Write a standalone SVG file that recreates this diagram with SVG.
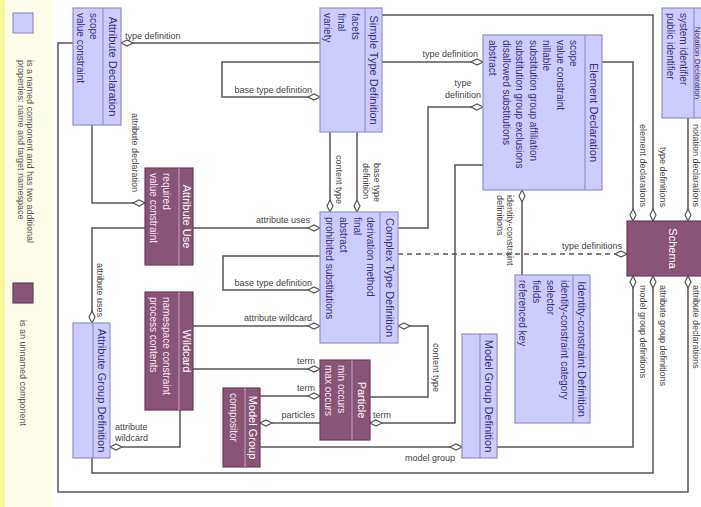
<svg xmlns="http://www.w3.org/2000/svg" width="701" height="507" viewBox="0 0 701 507">
<defs>
<style>
text{font-family:"Liberation Sans",Arial,sans-serif}
.lb{fill:#ccccff;stroke:#9090c8;stroke-width:1.2}
.db{fill:#8a5478;stroke:#6a3d5e;stroke-width:1.2}
.ldv{stroke:#9090c8;stroke-width:1.2}
.ddv{stroke:#c8a0bc;stroke-width:1}
.tl{font-size:11px;fill:#3a2f80;text-anchor:middle}
.pl{font-size:10px;fill:#3a2f80}
.td{font-size:11px;fill:#ffffff;text-anchor:middle}
.pd{font-size:10px;fill:#f6e8f2}
.lbl{font-size:9px;fill:#444}
.end{text-anchor:end}
.mid{text-anchor:middle}
.conn path{fill:none;stroke:#555;stroke-width:1.5;marker-end:url(#dia)}
.conn path.dash{stroke-dasharray:5 4}
.leg{font-size:9px;fill:#555}
</style>
<marker id="dia" markerUnits="userSpaceOnUse" markerWidth="14" markerHeight="8" refX="13" refY="4" orient="auto" overflow="visible">
<path d="M1,4 L7,1 L13,4 L7,7 Z" fill="#fff" stroke="#555" stroke-width="1.2"/>
</marker>
</defs>
<rect x="0" y="0" width="701" height="507" fill="#ffffff"/>
<g id="legend">
<rect x="0" y="0" width="52" height="507" fill="#fdfde9"/>
<rect x="0" y="0" width="5" height="507" fill="#f7f79a"/>
<rect class="lb" x="13" y="13" width="20" height="20"/>
<text class="leg" transform="translate(27,60) rotate(90)">is a named component and has two additional</text>
<text class="leg" transform="translate(18,60) rotate(90)">properties: name and target namespace</text>
<rect class="db" x="13" y="283" width="20" height="20"/>
<text class="leg" transform="translate(20,320) rotate(90)">is an unnamed component</text>
</g>
<g id="connectors" class="conn">
<path d="M320,43 H121"/>
<path d="M320,62 H222 V97 H320"/>
<path d="M382,62 H483"/>
<path d="M398,228 H428 V107 H483"/>
<path d="M382,15 H653 V221"/>
<path d="M602,62 H633 V221"/>
<path d="M688,118 V221"/>
<path d="M497,447 H633 V276"/>
<path d="M92,458 V473 H653 V276"/>
<path d="M73,43 H58 V492 H688 V276"/>
<path class="dash" d="M398,254 H627"/>
<path d="M92,125 V203 H145"/>
<path d="M145,228 H92 V323"/>
<path d="M193,228 H320"/>
<path d="M320,256 H223 V290 H320"/>
<path d="M193,326 H320"/>
<path d="M193,369 H320"/>
<path d="M260,396 H320"/>
<path d="M320,423 H260"/>
<path d="M483,165 H455 V423 H370"/>
<path d="M370,397 H428 V326 H398"/>
<path d="M330,132 V212"/>
<path d="M357,132 V212"/>
<path d="M522,275 V190"/>
<path d="M260,447 H462"/>
<path d="M180,410 V447 H110"/>
</g>
<g id="labels">
<text class="lbl" x="125" y="39">type definition</text>
<text class="lbl end" x="312" y="93">base type definition</text>
<text class="lbl end" x="478" y="57">type definition</text>
<text class="lbl mid" x="463" y="86">type</text>
<text class="lbl mid" x="463" y="98">definition</text>
<text class="lbl end" x="310" y="223">attribute uses</text>
<text class="lbl end" x="312" y="286">base type definition</text>
<text class="lbl end" x="312" y="321">attribute wildcard</text>
<text class="lbl end" x="315" y="364">term</text>
<text class="lbl end" x="315" y="391">term</text>
<text class="lbl end" x="315" y="418">particles</text>
<text class="lbl" x="373" y="418">term</text>
<text class="lbl end" x="455" y="461">model group</text>
<text class="lbl" x="115" y="430">attribute</text>
<text class="lbl" x="115" y="441">wildcard</text>
<text class="lbl end" x="622" y="249">type definitions</text>
<text class="lbl" transform="translate(132,113) rotate(90)">attribute declaration</text>
<text class="lbl" transform="translate(97,263) rotate(90)">attribute uses</text>
<text class="lbl" transform="translate(336,155) rotate(90)">content type</text>
<text class="lbl" transform="translate(374,163) rotate(90)">base type</text>
<text class="lbl" transform="translate(363,163) rotate(90)">definition</text>
<text class="lbl" transform="translate(433,343) rotate(90)">content type</text>
<text class="lbl" transform="translate(507,195) rotate(90)">identity-constraint</text>
<text class="lbl" transform="translate(497,195) rotate(90)">definitions</text>
<text class="lbl end" transform="translate(640,207) rotate(90)">element declarations</text>
<text class="lbl end" transform="translate(660,207) rotate(90)">type definitions</text>
<text class="lbl end" transform="translate(692.5,207) rotate(90)">notation declarations</text>
<text class="lbl" transform="translate(640,285) rotate(90)">model group definitions</text>
<text class="lbl" transform="translate(660,285) rotate(90)">attribute group definitions</text>
<text class="lbl" transform="translate(692.5,285) rotate(90)">attribute declarations</text>
</g>
<g id="attribute-declaration">
<rect class="lb" x="73" y="8" width="48" height="117"/>
<line class="ldv" x1="103" y1="8" x2="103" y2="125"/>
<text class="tl" transform="translate(108.5,66.5) rotate(90)">Attribute Declaration</text>
<text class="pl" transform="translate(90,13) rotate(90)">scope</text>
<text class="pl" transform="translate(77,13) rotate(90)">value constraint</text>
</g>
<g id="simple-type-definition">
<rect class="lb" x="320" y="8" width="62" height="124"/>
<line class="ldv" x1="365" y1="8" x2="365" y2="132"/>
<text class="tl" transform="translate(370,70) rotate(90)">Simple Type Definition</text>
<text class="pl" transform="translate(352,13) rotate(90)">facets</text>
<text class="pl" transform="translate(338,13) rotate(90)">final</text>
<text class="pl" transform="translate(324,13) rotate(90)">variety</text>
</g>
<g id="element-declaration">
<rect class="lb" x="483" y="35" width="119" height="155"/>
<line class="ldv" x1="585" y1="35" x2="585" y2="190"/>
<text class="tl" transform="translate(590,112.5) rotate(90)">Element Declaration</text>
<text class="pl" transform="translate(570,40) rotate(90)">scope</text>
<text class="pl" transform="translate(557,40) rotate(90)">value constraint</text>
<text class="pl" transform="translate(543,40) rotate(90)">nillable</text>
<text class="pl" transform="translate(530,40) rotate(90)">substitution group affiliation</text>
<text class="pl" transform="translate(516,40) rotate(90)">substitution group exclusions</text>
<text class="pl" transform="translate(503,40) rotate(90)">disallowed substitutions</text>
<text class="pl" transform="translate(489,40) rotate(90)">abstract</text>
</g>
<g id="notation-declaration">
<rect class="lb" x="662" y="8" width="42" height="110"/>
<line class="ldv" x1="694" y1="8" x2="694" y2="118"/>
<text class="tl" style="font-size:8px" transform="translate(694.8,63) rotate(90)">Notation Declaration</text>
<text class="pl" transform="translate(680,13) rotate(90)">system identifier</text>
<text class="pl" transform="translate(667,13) rotate(90)">public identifier</text>
</g>
<g id="schema">
<rect class="db" x="627" y="221" width="85" height="55"/>
<text class="td" transform="translate(668.5,248.5) rotate(90)">Schema</text>
</g>
<g id="complex-type-definition">
<rect class="lb" x="320" y="212" width="78" height="131"/>
<line class="ldv" x1="380" y1="212" x2="380" y2="343"/>
<text class="tl" transform="translate(385.5,277.5) rotate(90)">Complex Type Definition</text>
<text class="pl" transform="translate(367,217) rotate(90)">derivation method</text>
<text class="pl" transform="translate(354,217) rotate(90)">final</text>
<text class="pl" transform="translate(340,217) rotate(90)">abstract</text>
<text class="pl" transform="translate(326,217) rotate(90)">prohibited substitutions</text>
</g>
<g id="attribute-use">
<rect class="db" x="145" y="168" width="48" height="97"/>
<line class="ddv" x1="179" y1="168" x2="179" y2="265"/>
<text class="td" transform="translate(182.5,216.5) rotate(90)">Attribute Use</text>
<text class="pd" transform="translate(163,173) rotate(90)">required</text>
<text class="pd" transform="translate(150,173) rotate(90)">value constraint</text>
</g>
<g id="wildcard">
<rect class="db" x="145" y="292" width="48" height="118"/>
<line class="ddv" x1="179" y1="292" x2="179" y2="410"/>
<text class="td" transform="translate(182.5,351) rotate(90)">Wildcard</text>
<text class="pd" transform="translate(163,297) rotate(90)">namespace constraint</text>
<text class="pd" transform="translate(150,297) rotate(90)">process contents</text>
</g>
<g id="particle">
<rect class="db" x="320" y="360" width="50" height="80"/>
<line class="ddv" x1="352" y1="360" x2="352" y2="440"/>
<text class="td" transform="translate(357.5,400) rotate(90)">Particle</text>
<text class="pd" transform="translate(338,365) rotate(90)">min occurs</text>
<text class="pd" transform="translate(325,365) rotate(90)">max occurs</text>
</g>
<g id="model-group">
<rect class="db" x="223" y="388" width="37" height="79"/>
<line class="ddv" x1="245" y1="388" x2="245" y2="467"/>
<text class="td" transform="translate(249,427.5) rotate(90)">Model Group</text>
<text class="pd" transform="translate(230,393) rotate(90)">compositor</text>
</g>
<g id="model-group-definition">
<rect class="lb" x="462" y="334" width="35" height="124"/>
<line class="ldv" x1="480" y1="334" x2="480" y2="458"/>
<text class="tl" transform="translate(485,396) rotate(90)">Model Group Definition</text>
</g>
<g id="identity-constraint-definition">
<rect class="lb" x="515" y="275" width="75" height="148"/>
<line class="ldv" x1="573" y1="275" x2="573" y2="423"/>
<text class="tl" transform="translate(578,349) rotate(90)">Identity-constraint Definition</text>
<text class="pl" transform="translate(561,280) rotate(90)">identity-constraint category</text>
<text class="pl" transform="translate(547,280) rotate(90)">selector</text>
<text class="pl" transform="translate(533,280) rotate(90)">fields</text>
<text class="pl" transform="translate(519,280) rotate(90)">referenced key</text>
</g>
<g id="attribute-group-definition">
<rect class="lb" x="73" y="323" width="37" height="135"/>
<line class="ldv" x1="93" y1="323" x2="93" y2="458"/>
<text class="tl" transform="translate(98,390.5) rotate(90)">Attribute Group Definition</text>
</g>
</svg>
